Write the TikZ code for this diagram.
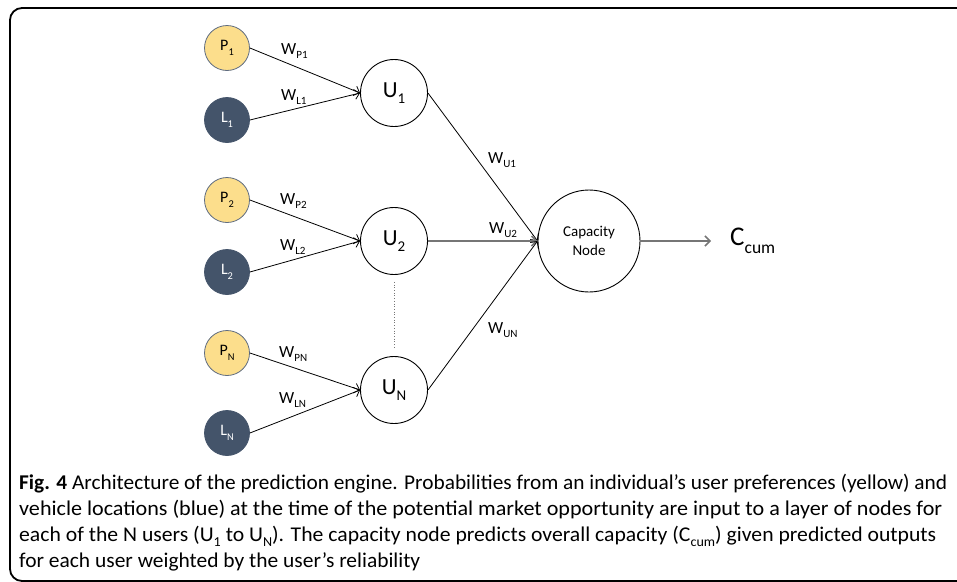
\documentclass[tikz,border=0pt]{standalone}
\usepackage{fontspec}
\setmainfont{Carlito}
\usetikzlibrary{arrows.meta}
\definecolor{pyel}{RGB}{252,222,140}
\definecolor{pedge}{RGB}{95,108,128}
\definecolor{lblue}{RGB}{68,84,106}
\definecolor{gline}{RGB}{118,118,118}
\newcommand\sbs[1]{\raisebox{-0.28em}{\scalebox{0.65}{#1}}}
\begin{document}
\begin{tikzpicture}[x=1pt,y=-1pt,
  pnode/.style={circle, draw=pedge, line width=0.8pt, fill=pyel, minimum size=45pt, inner sep=0pt, font=\fontsize{16}{18}\selectfont},
  lnode/.style={circle, draw=lblue, line width=0.8pt, fill=lblue, text=white, minimum size=45pt, inner sep=0pt, font=\fontsize{16}{18}\selectfont},
  unode/.style={circle, draw=black, line width=0.9pt, fill=white, minimum size=67pt, inner sep=0pt, font=\fontsize{23}{26}\selectfont},
  capnode/.style={circle, draw=black, line width=0.9pt, fill=white, minimum size=102pt, inner sep=0pt, align=center, font=\fontsize{15}{19}\selectfont},
  wlab/.style={anchor=base west, inner sep=0pt, font=\fontsize{17}{19}\selectfont},
  conn/.style={line width=0.8pt, -{Straight Barb[length=5pt,width=10pt]}},
  gconn/.style={line width=1.5pt, draw=gline, -{Straight Barb[length=5pt,width=10pt]}},
  capl/.style={anchor=base west, inner sep=0pt, font=\fontsize{21}{26}\selectfont}
]
\useasboundingbox (0,0) rectangle (957,581);
\begin{scope}
\clip (0,0) rectangle (957,581);
\draw[line width=1.8pt, rounded corners=12pt] (990,8) -- (10,8) -- (10,581) -- (990,581);
\end{scope}

% input nodes
\node[pnode] (P1) at (227,48) {P\sbs{1}};
\node[lnode] (L1) at (227,120) {L\sbs{1}};
\node[pnode] (P2) at (227,200) {P\sbs{2}};
\node[lnode] (L2) at (227,272) {L\sbs{2}};
\node[pnode] (PN) at (227,353) {P\sbs{N}};
\node[lnode] (LN) at (227,433) {L\sbs{N}};

% user nodes
\node[unode] (U1) at (394,93) {U\sbs{1}};
\node[unode] (U2) at (394,241) {U\sbs{2}};
\node[unode] (UN) at (394,390) {U\sbs{N}};

% capacity node
\node[capnode] (cap) at (589,241) {Capacity\\Node};
\coordinate (out) at (711,241);
\node[anchor=west, inner sep=0pt, font=\fontsize{27}{30}\selectfont] (Ccum) at (730,241) {C\sbs{cum}};

% connectors
\draw[conn] (P1.east) -- (U1.west);
\draw[conn] (L1.east) -- (U1.west);
\draw[conn] (P2.east) -- (U2.west);
\draw[conn] (L2.east) -- (U2.west);
\draw[conn] (PN.east) -- (UN.west);
\draw[conn] (LN.east) -- (UN.west);
\draw[conn] (U1.east) -- (cap.west);
\draw[gconn] (U2.east) -- (cap.west);
\draw[conn] (UN.east) -- (cap.west);
\draw[gconn] (cap.east) -- (out);
\draw[gline, line width=0.7pt, dotted, shorten <=7pt, shorten >=7pt] (U2.south) -- (UN.north);

% weight labels
\node[wlab] (wp1) at (281,54) {W\sbs{P1}};
\node[wlab] (wl1) at (281,100) {W\sbs{L1}};
\node[wlab] (wp2) at (280,204) {W\sbs{P2}};
\node[wlab] (wl2) at (280,250) {W\sbs{L2}};
\node[wlab] (wpn) at (279,357) {W\sbs{PN}};
\node[wlab] (wln) at (279,403) {W\sbs{LN}};
\node[wlab] (wu1) at (488,163) {W\sbs{U1}};
\node[wlab] (wu2) at (489,233) {W\sbs{U2}};
\node[wlab] (wun) at (488,333) {W\sbs{UN}};

% caption
\node[capl] (c1) at (19,489) {\resizebox{928pt}{\height}{\textbf{Fig. 4} Architecture of the prediction engine. Probabilities from an individual’s user preferences (yellow) and}};
\node[capl] (c2) at (19,515) {\resizebox{923pt}{\height}{vehicle locations (blue) at the time of the potential market opportunity are input to a layer of nodes for}};
\node[capl] (c3) at (19,541) {\resizebox{917pt}{\height}{each of the N users (U\sbs{1} to U\sbs{N}). The capacity node predicts overall capacity (C\sbs{cum}) given predicted outputs}};
\node[capl] (c4) at (19,567) {\resizebox{401pt}{\height}{for each user weighted by the user’s reliability}};
\end{tikzpicture}
\end{document}
